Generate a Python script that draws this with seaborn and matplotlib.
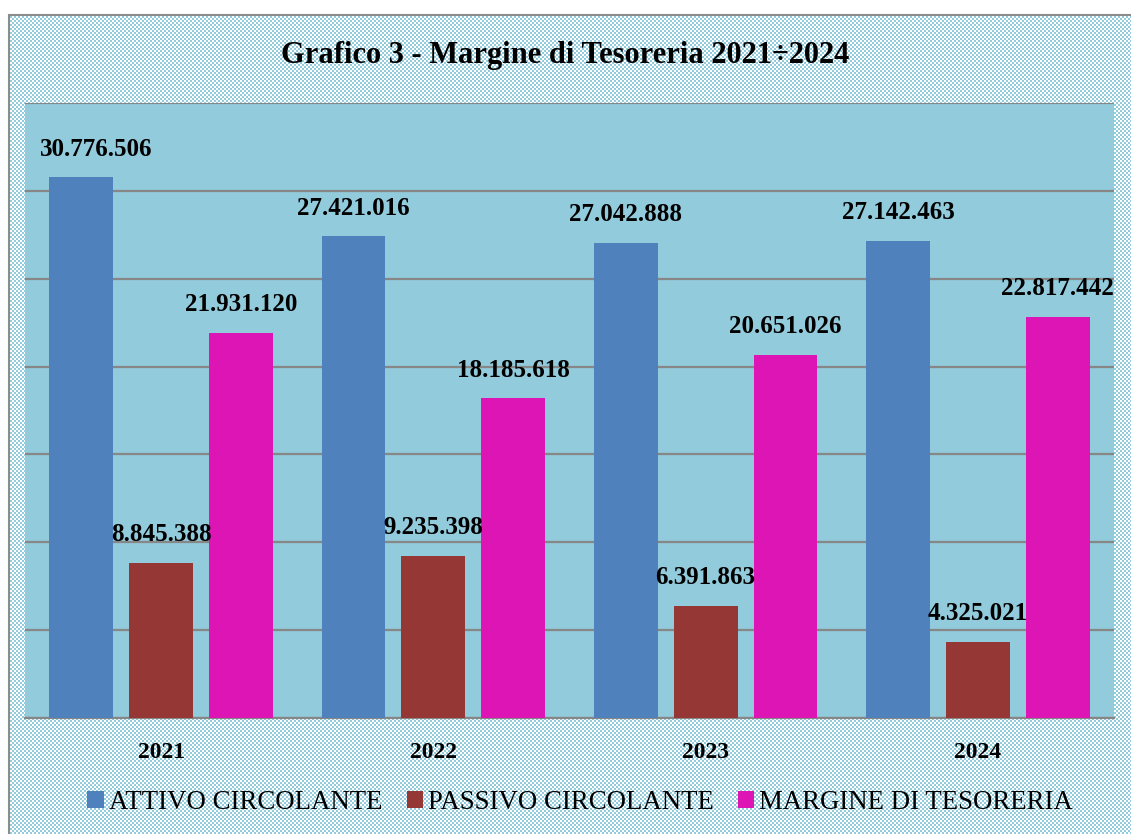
import numpy as np
import pandas as pd
import matplotlib.pyplot as plt
import seaborn as sns
from matplotlib.patches import Rectangle

# data
years = ['2021', '2022', '2023', '2024']
attivo = [30776506, 27421016, 27042888, 27142463]
passivo = [8845388, 9235398, 6391863, 4325021]
margine = [21931120, 18185618, 20651026, 22817442]
series = ['ATTIVO CIRCOLANTE', 'PASSIVO CIRCOLANTE', 'MARGINE DI TESORERIA']
colors = ['#4F81BD', '#953735', '#DD15B4']

df = pd.DataFrame({
    'anno': years * 3,
    'serie': [series[0]] * 4 + [series[1]] * 4 + [series[2]] * 4,
    'valore': attivo + passivo + margine,
})

sns.set_theme(style='white')
plt.rcParams['font.family'] = ['Liberation Serif', 'DejaVu Serif']
plt.rcParams['text.color'] = 'black'
plt.rcParams['xtick.color'] = 'black'

W, H = 1131, 834
fig = plt.figure(figsize=(W / 100, H / 100), dpi=100)

# checkered background like the office "pattern fill"
yy, xx = np.mgrid[0:H, 0:W]
check = ((xx // 2 + yy // 2) % 2).astype(float)
blue = np.array([0x92, 0xCB, 0xDC]) / 255
img = np.where(check[..., None] > 0, blue, np.ones(3))
img[:15, :, :] = 1.0
img[:, :9, :] = 1.0
fig.figimage(img, xo=0, yo=0, zorder=0, origin='upper')
fig.patches.append(Rectangle((9 / W, -0.1), 1.2, 1 - 15 / H + 0.1,
                             transform=fig.transFigure, fill=False,
                             edgecolor='#8C8C8C', linewidth=1.5, zorder=1))

ax = fig.add_axes([25 / W, 1 - 718 / H, (1114 - 25) / W, (718 - 103) / H])
ax.set_zorder(3)
ax.set_facecolor('#92CBDC')

sns.barplot(data=df, x='anno', y='valore', hue='serie', hue_order=series,
            palette=colors, width=0.88, gap=0.2, saturation=1,
            edgecolor='none', ax=ax, zorder=3)

ax.set_ylim(0, 35000000)
ax.set_xlim(-0.5, 3.5)
ax.set_yticks(np.arange(0, 35000001, 5000000))
ax.yaxis.grid(True, color='#878787', linewidth=1.6, zorder=0)
ax.set_axisbelow(True)
ax.tick_params(axis='y', left=False, labelleft=False)
ax.tick_params(axis='x', bottom=False, labelsize=17, pad=11)
for lab in ax.get_xticklabels():
    lab.set_fontweight('bold')
ax.set_xlabel('')
ax.set_ylabel('')
for s in ['left', 'right', 'top']:
    ax.spines[s].set_visible(False)
ax.spines['bottom'].set_color('#878787')
ax.spines['bottom'].set_linewidth(1.6)

fmt = lambda v: f'{v:,.0f}'.replace(',', '.')
for i, cont in enumerate(ax.containers):
    anns = ax.bar_label(cont, labels=[fmt(v) for v in cont.datavalues],
                        padding=12, fontsize=18, fontweight='bold',
                        color='black')
    if i == 0:
        # first label sits clear of the left edge, as in the original
        anns[0].xyann = (11, 12)

handles, labels = ax.get_legend_handles_labels()
ax.legend(handles, labels, loc='center', bbox_to_anchor=(0.51, -0.138),
          ncol=3, frameon=False, fontsize=19.3, handlelength=0.6,
          handleheight=0.6, handletextpad=0.2, columnspacing=0.9)

fig.text(0.5, 1 - 55 / H, 'Grafico 3 - Margine di Tesoreria 2021\u00f72024',
         ha='center', va='center', fontsize=22, fontweight='bold',
         color='black')

fig.savefig('out.png', dpi=100)
